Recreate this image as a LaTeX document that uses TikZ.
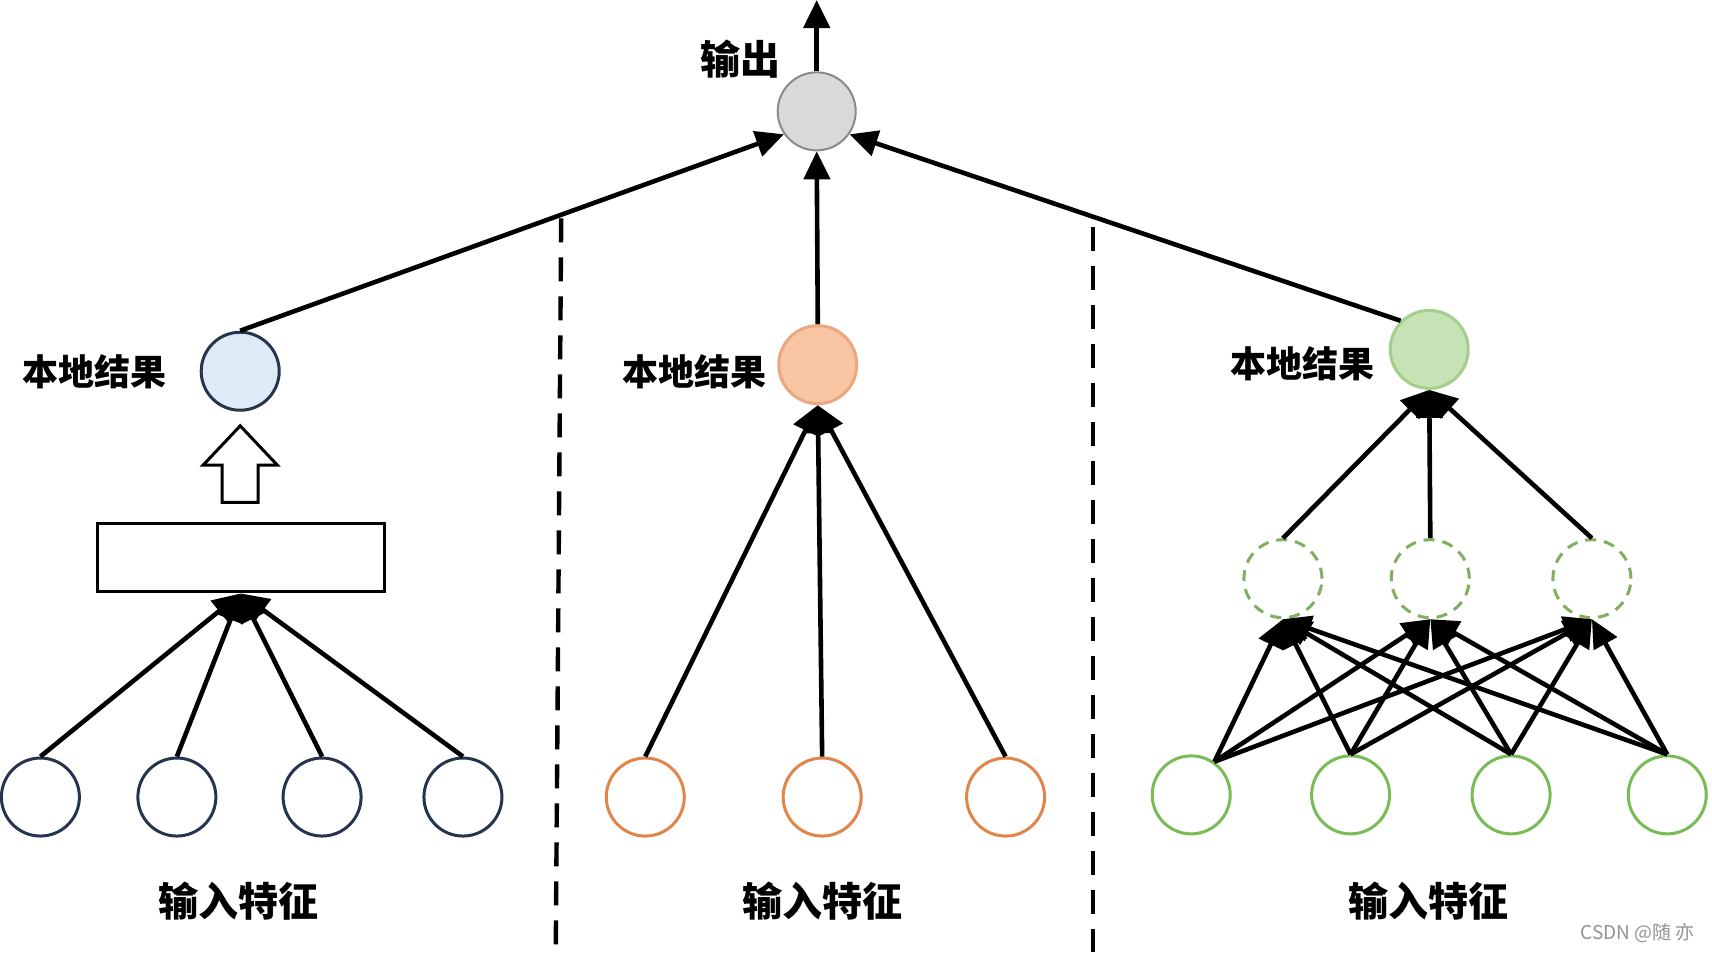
\documentclass[tikz,border=0pt]{standalone}
\usepackage{fontspec}
\newfontfamily\cjk{Noto Sans CJK SC}
\usetikzlibrary{arrows.meta}
\definecolor{bluefill}{HTML}{DEEAF6}
\definecolor{navy}{HTML}{26344F}
\definecolor{orfill}{HTML}{F8C6A2}
\definecolor{orlocal}{HTML}{EBA77E}
\definecolor{orbot}{HTML}{E2854A}
\definecolor{grfill}{HTML}{C6E3B5}
\definecolor{grlocal}{HTML}{A3CF8B}
\definecolor{grbot}{HTML}{78BC55}
\definecolor{grdash}{HTML}{7FAF5F}
\definecolor{grayfill}{HTML}{D9D9D9}
\definecolor{grayline}{HTML}{8A8A8A}
\tikzset{
  neuron/.style={circle, minimum size=78pt, inner sep=0pt, line width=3pt},
  conn/.style={line width=4.6pt, -{Triangle[length=28pt,width=26pt]}},
  divider/.style={line width=4.4pt, dash pattern=on 24pt off 15pt},
  lbl/.style={font=\cjk\bfseries\fontsize{36pt}{40pt}\selectfont, inner sep=0pt},
  biglbl/.style={font=\cjk\bfseries\fontsize{40pt}{44pt}\selectfont, inner sep=0pt},
}
\begin{document}
\begin{tikzpicture}[x=1.0918pt, y=-1.0918pt]
\useasboundingbox (0,0) rectangle (1568,872);
\fill[white] (0,0) rectangle (1568,872);

% output
\node[neuron, fill=grayfill, draw=grayline, line width=2pt] (out) at (748,102) {};
\coordinate (outtip) at (748,0);
\node[biglbl] (outlbl) at (678,54) {输出};
\draw[conn] (out.north) -- (outtip);

% dividers
\coordinate (d1a) at (514,200);
\coordinate (d1b) at (509,872);
\coordinate (d2a) at (1001,208);
\coordinate (d2b) at (1001,872);
\draw[divider] (d1a) -- (d1b);
\draw[divider] (d2a) -- (d2b);

% ---- left part
\node[neuron, fill=bluefill, draw=navy] (lb) at (220,340) {};
\node[lbl] (lblb) at (87,340) {本地结果};
\node[draw, line width=3pt, minimum width=287pt, minimum height=68pt, inner sep=0pt] (rect) at (220.5,511) {};
\draw[line width=3pt, fill=white] (220,390) -- (254,426) -- (236.5,426) -- (236.5,460) -- (203.5,460) -- (203.5,426) -- (186,426) -- cycle;
\foreach \n/\x in {b1/37,b2/162,b3/295,b4/424}{
  \node[neuron, draw=navy] (\n) at (\x,730) {};
  \draw[conn] (\n.north) -- (rect.south);
}
\node[biglbl] (inb) at (218,825) {输入特征};
\draw[conn] (lb.north) -- (out.215);

% ---- middle part
\node[neuron, fill=orfill, draw=orlocal] (lo) at (749,334) {};
\node[lbl] (lblo) at (636,340) {本地结果};
\foreach \n/\x in {o1/591,o2/753,o3/921}{
  \node[neuron, draw=orbot] (\n) at (\x,730) {};
  \draw[conn] (\n.north) -- (lo.south);
}
\node[biglbl] (ino) at (753,825) {输入特征};
\draw[conn] (lo.north) -- (out.south);

% ---- right part
\node[neuron, fill=grfill, draw=grlocal] (lg) at (1309,320) {};
\node[lbl] (lblg) at (1193,333) {本地结果};
\foreach \n/\x in {h1/1175,h2/1310,h3/1458}{
  \node[neuron, draw=grdash, dash pattern=on 11pt off 8pt] (\n) at (\x,530) {};
  \draw[conn] (\n.north) -- (lg.south);
}
\foreach \n/\x in {g1/1091,g2/1237,g3/1384,g4/1527}{
  \node[neuron, draw=grbot] (\n) at (\x,728) {};
}
\foreach \h in {h1,h2,h3}{
  \draw[conn] (g1.55) -- (\h.south);
  \draw[conn] (g2.north) -- (\h.south);
  \draw[conn] (g3.north) -- (\h.south);
  \draw[conn] (g4.north) -- (\h.south);
}
\node[biglbl] (ing) at (1308,825) {输入特征};
\draw[conn] (lg.north west) -- (out.-35);

\node[font=\cjk\fontsize{19pt}{22pt}\selectfont, text=gray!85, inner sep=0pt] (wm) at (1500,855) {CSDN @随 亦};
\end{tikzpicture}
\end{document}
